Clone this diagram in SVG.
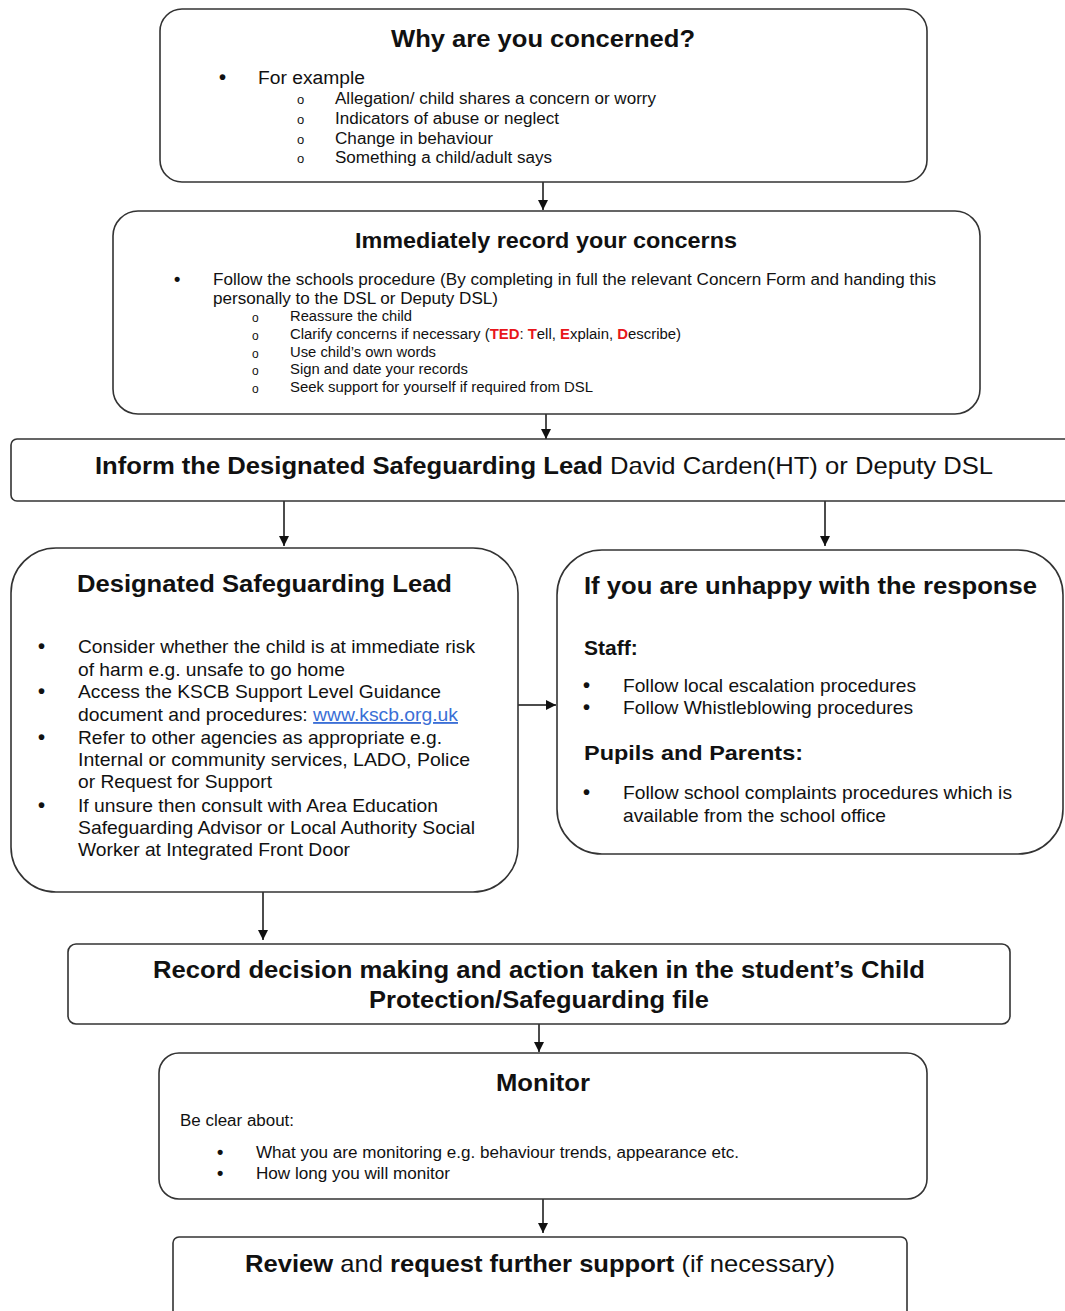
<svg xmlns="http://www.w3.org/2000/svg" width="1065" height="1311" viewBox="0 0 1065 1311">
<defs>
<marker id="ah" viewBox="0 0 10 10" refX="10" refY="5" markerWidth="10" markerHeight="10" markerUnits="userSpaceOnUse" orient="auto">
<path d="M0,0 L10,5 L0,10 z" fill="#111"/>
</marker>
</defs>
<style>
.box{fill:#fff;stroke:#333;stroke-width:1.6}
.t{font-family:"Liberation Sans",Arial,sans-serif;fill:#111}
.b{font-weight:bold}
.bu{font-family:"Liberation Sans",Arial,sans-serif;fill:#111;font-weight:bold}
.c{stroke:#111;stroke-width:1.5;fill:none;marker-end:url(#ah)}
.red{fill:#e8161b;font-weight:bold}
.link{fill:#3b6fd6;text-decoration:underline}
</style>
<rect width="1065" height="1311" fill="#fff"/>

<g id="connectors">
<line class="c" x1="543" y1="182" x2="543" y2="210"/>
<line class="c" x1="546" y1="414" x2="546" y2="439"/>
<line class="c" x1="284" y1="501" x2="284" y2="546"/>
<line class="c" x1="825" y1="501" x2="825" y2="546"/>
<line class="c" x1="518" y1="705" x2="556" y2="705"/>
<line class="c" x1="263" y1="892" x2="263" y2="940"/>
<line class="c" x1="539" y1="1024" x2="539" y2="1052"/>
<line class="c" x1="543" y1="1199" x2="543" y2="1233"/>
</g>

<g id="why">
<rect class="box" x="160" y="9" width="767" height="173" rx="22"/>
<text class="t b" x="391" y="47" font-size="24" textLength="304" lengthAdjust="spacingAndGlyphs">Why are you concerned?</text>
<text class="bu" x="219" y="84" font-size="20">•</text>
<text class="t" x="258" y="84" font-size="18" textLength="107" lengthAdjust="spacingAndGlyphs">For example</text>
<g font-size="16">
<text class="t" x="297" y="104" font-size="13">o</text>
<text class="t" x="335" y="104" textLength="321" lengthAdjust="spacingAndGlyphs">Allegation/ child shares a concern or worry</text>
<text class="t" x="297" y="124" font-size="13">o</text>
<text class="t" x="335" y="124" textLength="224" lengthAdjust="spacingAndGlyphs">Indicators of abuse or neglect</text>
<text class="t" x="297" y="144" font-size="13">o</text>
<text class="t" x="335" y="144" textLength="158" lengthAdjust="spacingAndGlyphs">Change in behaviour</text>
<text class="t" x="297" y="163" font-size="13">o</text>
<text class="t" x="335" y="163" textLength="217" lengthAdjust="spacingAndGlyphs">Something a child/adult says</text>
</g>
</g>

<g id="record">
<rect class="box" x="113" y="211" width="867" height="203" rx="25"/>
<text class="t b" x="355" y="248" font-size="22" textLength="382" lengthAdjust="spacingAndGlyphs">Immediately record your concerns</text>
<text class="bu" x="174" y="285" font-size="18">•</text>
<text class="t" x="213" y="285" font-size="16" textLength="723" lengthAdjust="spacingAndGlyphs">Follow the schools procedure (By completing in full the relevant Concern Form and handing this</text>
<text class="t" x="213" y="304" font-size="16" textLength="285" lengthAdjust="spacingAndGlyphs">personally to the DSL or Deputy DSL)</text>
<g font-size="14">
<text class="t" x="252" y="322" font-size="12">o</text>
<text class="t" x="290" y="321" textLength="122" lengthAdjust="spacingAndGlyphs">Reassure the child</text>
<text class="t" x="252" y="340" font-size="12">o</text>
<text class="t" x="290" y="339" textLength="391" lengthAdjust="spacingAndGlyphs">Clarify concerns if necessary (<tspan class="red">TED</tspan>: <tspan class="red">T</tspan>ell, <tspan class="red">E</tspan>xplain, <tspan class="red">D</tspan>escribe)</text>
<text class="t" x="252" y="358" font-size="12">o</text>
<text class="t" x="290" y="357" textLength="146" lengthAdjust="spacingAndGlyphs">Use child’s own words</text>
<text class="t" x="252" y="375" font-size="12">o</text>
<text class="t" x="290" y="374" textLength="178" lengthAdjust="spacingAndGlyphs">Sign and date your records</text>
<text class="t" x="252" y="393" font-size="12">o</text>
<text class="t" x="290" y="392" textLength="303" lengthAdjust="spacingAndGlyphs">Seek support for yourself if required from DSL</text>
</g>
</g>

<g id="inform">
<rect class="box" x="11" y="439" width="1070" height="62" rx="6"/>
<text class="t" x="95" y="474" font-size="24" textLength="898" lengthAdjust="spacingAndGlyphs"><tspan class="b">Inform the Designated Safeguarding Lead</tspan> David Carden(HT) or Deputy DSL</text>
</g>

<g id="dsl">
<rect class="box" x="11" y="548" width="507" height="344" rx="45"/>
<text class="t b" x="77" y="592" font-size="24" textLength="375" lengthAdjust="spacingAndGlyphs">Designated Safeguarding Lead</text>
<g font-size="18.5">
<text class="bu" x="38" y="653" font-size="20">•</text>
<text class="t" x="78" y="653" textLength="397" lengthAdjust="spacingAndGlyphs">Consider whether the child is at immediate risk</text>
<text class="t" x="78" y="676" textLength="267" lengthAdjust="spacingAndGlyphs">of harm e.g. unsafe to go home</text>
<text class="bu" x="38" y="698" font-size="20">•</text>
<text class="t" x="78" y="698" textLength="363" lengthAdjust="spacingAndGlyphs">Access the KSCB Support Level Guidance</text>
<text class="t" x="78" y="721" textLength="380" lengthAdjust="spacingAndGlyphs">document and procedures: <tspan class="link">www.kscb.org.uk</tspan></text>
<text class="bu" x="38" y="744" font-size="20">•</text>
<text class="t" x="78" y="744" textLength="364" lengthAdjust="spacingAndGlyphs">Refer to other agencies as appropriate e.g.</text>
<text class="t" x="78" y="766" textLength="392" lengthAdjust="spacingAndGlyphs">Internal or community services,  LADO, Police</text>
<text class="t" x="78" y="788" textLength="194" lengthAdjust="spacingAndGlyphs">or Request for Support</text>
<text class="bu" x="38" y="812" font-size="20">•</text>
<text class="t" x="78" y="812" textLength="360" lengthAdjust="spacingAndGlyphs">If unsure then consult with Area Education</text>
<text class="t" x="78" y="834" textLength="397" lengthAdjust="spacingAndGlyphs">Safeguarding Advisor or Local Authority Social</text>
<text class="t" x="78" y="856" textLength="272" lengthAdjust="spacingAndGlyphs">Worker at Integrated Front Door</text>
</g>
</g>

<g id="unhappy">
<rect class="box" x="557" y="550" width="506" height="304" rx="45"/>
<text class="t b" x="584" y="594" font-size="24" textLength="453" lengthAdjust="spacingAndGlyphs">If you are unhappy with the response</text>
<text class="t b" x="584" y="655" font-size="21">Staff:</text>
<g font-size="18.5">
<text class="bu" x="583" y="692" font-size="20">•</text>
<text class="t" x="623" y="692" textLength="293" lengthAdjust="spacingAndGlyphs">Follow local escalation procedures</text>
<text class="bu" x="583" y="714" font-size="20">•</text>
<text class="t" x="623" y="714" textLength="290" lengthAdjust="spacingAndGlyphs">Follow Whistleblowing procedures</text>
</g>
<text class="t b" x="584" y="760" font-size="21" textLength="219" lengthAdjust="spacingAndGlyphs">Pupils and Parents:</text>
<g font-size="18.5">
<text class="bu" x="583" y="799" font-size="20">•</text>
<text class="t" x="623" y="799" textLength="389" lengthAdjust="spacingAndGlyphs">Follow school complaints procedures which is</text>
<text class="t" x="623" y="822" textLength="263" lengthAdjust="spacingAndGlyphs">available from the school office</text>
</g>
</g>

<g id="decision">
<rect class="box" x="68" y="944" width="942" height="80" rx="8"/>
<text class="t b" x="153" y="978" font-size="24" textLength="772" lengthAdjust="spacingAndGlyphs">Record decision making and action taken in the student’s Child</text>
<text class="t b" x="369" y="1008" font-size="24" textLength="340" lengthAdjust="spacingAndGlyphs">Protection/Safeguarding file</text>
</g>

<g id="monitor">
<rect class="box" x="159" y="1053" width="768" height="146" rx="20"/>
<text class="t b" x="496" y="1091" font-size="24" textLength="94" lengthAdjust="spacingAndGlyphs">Monitor</text>
<text class="t" x="180" y="1126" font-size="16" textLength="114" lengthAdjust="spacingAndGlyphs">Be clear about:</text>
<text class="bu" x="217" y="1158" font-size="18">•</text>
<text class="t" x="256" y="1158" font-size="16" textLength="483" lengthAdjust="spacingAndGlyphs">What you are monitoring e.g. behaviour trends, appearance etc.</text>
<text class="bu" x="217" y="1179" font-size="18">•</text>
<text class="t" x="256" y="1179" font-size="16" textLength="194" lengthAdjust="spacingAndGlyphs">How long you will monitor</text>
</g>

<g id="review">
<rect class="box" x="173" y="1237" width="734" height="90" rx="6"/>
<text class="t" x="245" y="1272" font-size="24" textLength="590" lengthAdjust="spacingAndGlyphs"><tspan class="b">Review</tspan> and <tspan class="b">request further support</tspan> (if necessary)</text>
</g>
</svg>
